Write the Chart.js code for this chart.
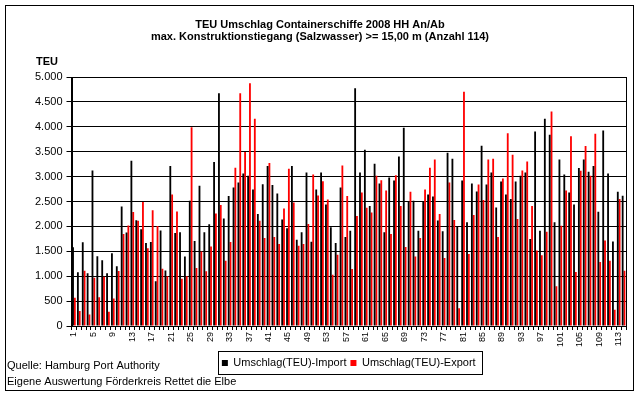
<!DOCTYPE html>
<html>
<head>
<meta charset="utf-8">
<script src="https://cdn.jsdelivr.net/npm/chart.js@4.4.1/dist/chart.umd.min.js"></script>
<style>
  html, body { margin: 0; padding: 0; background: #fff; }
  #wrap { width: 640px; height: 396px; }
</style>
</head>
<body>
<div id="wrap"><canvas id="chart" width="640" height="396"></canvas></div>
<script>
// ── DATA ───────────────────────────────────────────────
// ship number 1..114
const ships = Array.from({ length: 114 }, (_, i) => String(i + 1));

const importTEU = [
  1580, 1080, 1680, 1060, 3120, 1400, 1320, 1060, 1460, 1200,
  2400, 1880, 3320, 2125, 1945, 1665, 1685,  900, 1920, 1115,
  3215, 1865, 1885, 1395, 2515, 1705, 2815, 1885, 2045, 3295,
  4675, 2160, 2610, 2780, 2880, 3060, 3015, 2740, 2250, 2845,
  3215, 2830, 2660, 2140, 1965, 3215, 1730, 1885, 3080, 1690,
  2740, 3080, 2440, 1985, 1665, 2780, 1785, 1915, 4775, 3080,
  3540, 2410, 3260, 2860, 1885, 2980, 2920, 3405, 3980, 2495,
  2515, 1915, 2495, 2640, 2600, 2120, 1905, 3480, 3360, 1995,
  2920, 2085, 2860, 2700, 3620, 2840, 3080, 2380, 2900, 2640,
  2550, 2900, 3015, 3080, 1745, 3905, 1915, 4160, 3840, 2085,
  3345, 3040, 2680, 2440, 3175, 3345, 3095, 3215, 2295, 3925,
  3060, 1695, 2695, 2615
];

const exportTEU = [
   565,  300, 1110,  230,  970,  575,  990,  285,  550, 1105,
  1845, 2020, 2290, 2115, 2490, 1560, 2325, 2010, 1150, 1000,
  2640, 2300,  950, 1000, 3990, 1165, 1495, 1100, 1595, 2260,
  2430, 1310, 1685, 3180, 4675, 3495, 4875, 4160, 2115, 1765,
  3275, 1785, 1645, 2360, 3160, 2480, 1610, 1645, 2050, 3040,
  2620, 2905, 2540, 1030, 1430, 3225, 2610, 1145, 2210, 2680,
  2375, 2280, 3015, 2925, 2720, 1845, 3025, 2410, 1585, 2695,
  1395, 1765, 2740, 3180, 3345, 2250, 1365, 2880, 2130,  355,
  4705, 1445, 2230, 2840, 2530, 3345, 3360, 1785, 2960, 3870,
  3440, 2150, 3125, 3305, 2410, 1515, 1420, 1895, 4305,  800,
  2015, 2720, 3810, 1085, 3115, 3615, 3015, 3860, 1285, 1715,
  1310,  325, 2550, 1110
];

const titleLines = [
  "TEU Umschlag Containerschiffe 2008 HH An/Ab",
  "max. Konstruktionstiegang (Salzwasser) >= 15,00 m (Anzahl 114)"
];
const footerLines = [
  "Quelle: Hamburg Port Authority",
  "Eigene Auswertung Förderkreis Rettet die Elbe"
];

const FONT = "'Liberation Sans', Arial, sans-serif";
Chart.defaults.font.family = FONT;
Chart.defaults.color = "#000";

// ── DECORATION: frames, axis title, footer ─────────────
const decor = {
  id: "decor",
  beforeDraw(chart) {
    const ctx = chart.ctx;
    ctx.save();
    ctx.fillStyle = "#fff";
    ctx.fillRect(0, 0, chart.width, chart.height);
    ctx.restore();
  },
  afterDraw(chart) {
    const { ctx, chartArea: a } = chart;
    ctx.save();
    ctx.strokeStyle = "#000";
    ctx.lineWidth = 1;

    // plot area frame
    const l = Math.round(a.left), t = Math.round(a.top);
    const r = Math.round(a.right), b = Math.round(a.bottom);
    ctx.strokeRect(l + 0.5, t + 0.5, r - l, b - t);

    // outer chart frame
    ctx.strokeRect(5.5, 5.5, 628, 385);

    // legend frame
    const hb = chart.legend.legendHitBoxes;
    if (hb && hb.length) {
      const last = hb[hb.length - 1];
      const x0 = Math.round(hb[0].left) - 4;
      const x1 = Math.round(last.left + last.width) + 6;
      const yc = hb[0].top + hb[0].height / 2;
      const y0 = Math.round(yc - 12);
      const y1 = Math.round(yc + 11);
      ctx.strokeRect(x0 + 0.5, y0 + 0.5, x1 - x0, y1 - y0);
    }

    // y axis title
    ctx.fillStyle = "#000";
    ctx.textBaseline = "middle";
    ctx.textAlign = "left";
    ctx.font = "bold 11px " + FONT;
    ctx.fillText("TEU", 36, 62);

    // source lines
    ctx.font = "11px " + FONT;
    ctx.fillText(footerLines[0], 7, 366);
    ctx.fillText(footerLines[1], 7, 381.5);
    ctx.restore();
  }
};

// ── CHART ──────────────────────────────────────────────
new Chart(document.getElementById("chart"), {
  type: "bar",
  data: {
    labels: ships,
    datasets: [
      {
        label: "Umschlag(TEU)-Import",
        data: importTEU,
        backgroundColor: "#000000",
        borderWidth: 0,
        categoryPercentage: 0.75,
        barPercentage: 1.0
      },
      {
        label: "Umschlag(TEU)-Export",
        data: exportTEU,
        backgroundColor: "#ff0000",
        borderWidth: 0,
        categoryPercentage: 0.75,
        barPercentage: 1.0
      }
    ]
  },
  options: {
    responsive: false,
    animation: false,
    layout: { padding: { top: 6, left: 14, right: 14, bottom: 17.5 } },
    plugins: {
      title: {
        display: true,
        text: titleLines,
        color: "#000",
        font: { size: 11, weight: "bold", lineHeight: 1.1 },
        padding: { top: 12.75, bottom: 34.05 }
      },
      legend: {
        position: "bottom",
        fullSize: false,
        labels: {
          color: "#000",
          font: { size: 11 },
          boxWidth: 6,
          boxHeight: 6,
          padding: 4
        }
      },
      tooltip: { enabled: false }
    },
    scales: {
      x: {
        offset: true,
        grid: { offset: true, drawOnChartArea: false, color: "#000", tickLength: 4 },
        border: { color: "#000" },
        ticks: {
          autoSkip: false,
          minRotation: 90,
          maxRotation: 90,
          padding: 2,
          color: "#000",
          font: { size: 9 },
          callback(value, index) {
            return index % 4 === 0 ? this.getLabelForValue(value) : "";
          }
        },
        afterFit(scale) { scale.height = 27.5; }
      },
      y: {
        min: 0,
        max: 5000,
        ticks: {
          stepSize: 500,
          padding: 4,
          color: "#000",
          font: { size: 11 },
          callback: v => v.toLocaleString("de-DE")
        },
        grid: { color: "#000", tickLength: 5 },
        border: { color: "#000" },
        afterFit(scale) { scale.width = 57.5; }
      }
    }
  },
  plugins: [decor]
});
</script>
</body>
</html>
